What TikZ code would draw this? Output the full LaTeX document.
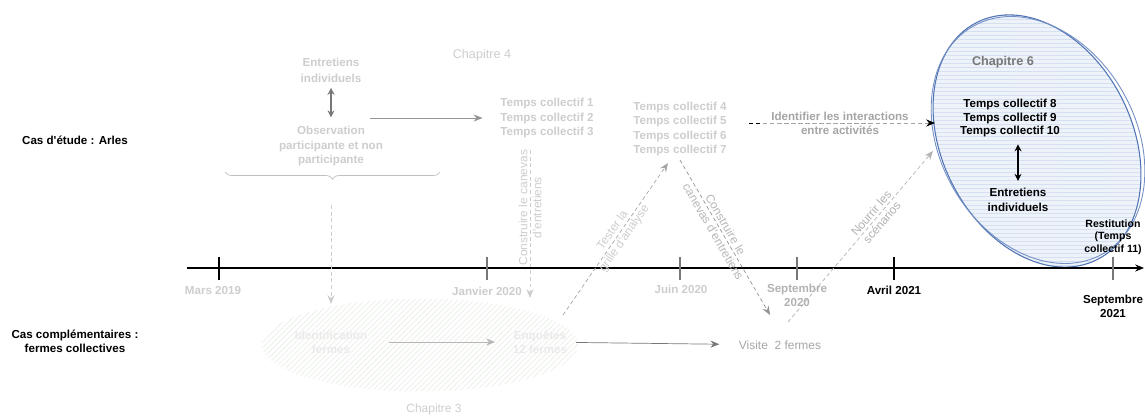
\documentclass[tikz,border=0pt]{standalone}
\usepackage{fontspec}
\setmainfont{Liberation Sans}
\usetikzlibrary{arrows.meta, positioning, patterns.meta, decorations.pathreplacing}
\definecolor{pale}{RGB}{205,205,205}
\definecolor{faded}{RGB}{234,234,234}
\definecolor{midgrey}{RGB}{165,165,165}
\definecolor{darkgrey}{RGB}{120,120,120}
\definecolor{chapblue}{RGB}{80,115,180}
\definecolor{fillblue}{RGB}{238,243,250}
\definecolor{hatchblue}{RGB}{212,223,242}
\definecolor{hatchgreen}{RGB}{236,241,234}

\begin{document}
\begin{tikzpicture}[x=0.02cm,y=-0.02cm,
    txt/.style={font=\fontsize{6.6}{8}\selectfont\bfseries,align=center,inner sep=1pt},
    thintxt/.style={font=\fontsize{6.8}{8}\selectfont,align=center,inner sep=1pt},
    tip/.style={-{Stealth[length=5pt,width=4pt]}},
    dashtip/.style={tip,dash pattern=on 2.2pt off 1.6pt}]
  \useasboundingbox (0,0) rectangle (1145,419);
  % chapitres
  \fill[pattern={Lines[angle=45,distance=2.2pt,line width=0.5pt]},pattern color=hatchgreen] (420,345) ellipse (3.16cm and 0.93cm);
  \fill[fillblue,rotate around={27:(1037,141)}] (1037,141) ellipse (1.9cm and 2.66cm);
  \fill[pattern={Lines[angle=0,distance=2.3pt,line width=0.35pt]},pattern color=hatchblue,rotate around={27:(1037,141)}] (1037,141) ellipse (1.9cm and 2.66cm);
  \draw[chapblue,line width=0.6pt,rotate around={27:(1037,141)}] (1037,141) ellipse (1.9cm and 2.66cm);
  \draw[chapblue!80,line width=0.5pt,rotate around={30:(1038,140)}] (1038,140) ellipse (1.95cm and 2.62cm);

  % frise
  \coordinate (t0) at (187,268);
  \coordinate (t1) at (1144,268);
  \draw[line width=0.8pt,tip] (t0) -- (t1);
  \foreach \x/\c in {219/black,487/darkgrey,680/darkgrey,797/darkgrey,894/black,1113/darkgrey}
    \draw[\c,line width=0.7pt] (\x,257) -- (\x,280);
  \node[txt,text=pale] (mars) at (213,291) {Mars 2019};
  \node[txt,text=pale] (janv) at (487,291) {Janvier 2020};
  \node[txt,text=pale] (juin) at (681,289) {Juin 2020};
  \node[txt,text=midgrey!85] (sept) at (797,295) {Septembre\\2020};
  \node[txt] (avril) at (894,290) {Avril 2021};
  \node[txt] (septb) at (1113,306) {Septembre\\2021};

  \node[txt] (arles) at (75,140) {Cas d\textquotesingle étude : Arles};
  \node[txt] (compl) at (75,341) {Cas complémentaires :\\fermes collectives};

  % Arles
  \node[thintxt,font=\fontsize{7.2}{8}\selectfont,text=pale] (chap4) at (482,55) {Chapitre 4};
  \node[txt,text=pale,font=\fontsize{6.6}{9}\selectfont\bfseries] (entA) at (331,70) {Entretiens\\individuels};
  \node[txt,text=pale] (obs) at (331,146) {Observation\\participante et non\\participante};
  \draw[darkgrey,line width=0.8pt,{Stealth[length=4pt,width=4pt]}-{Stealth[length=4pt,width=4pt]},shorten <=2pt,shorten >=4pt] (entA) -- (obs);
  \coordinate (brR) at (440,172);
  \coordinate (brL) at (225,172);
  \draw[midgrey!70,decorate,decoration={brace,amplitude=4pt}] (brR) -- (brL);
  \coordinate (brtip) at (331,205);
  \coordinate (obsout) at (370,118);
  \node[txt,text=pale] (tcA) at (547,118) {Temps collectif 1\\Temps collectif 2\\Temps collectif 3};
  \draw[darkgrey!80,tip,shorten >=9pt] (obsout) -- (tcA);

  \coordinate (cvA1) at (530,150);
  \coordinate (cvA2) at (530,298);
  \draw[pale,dashtip] (cvA1) -- node[thintxt,text=pale,rotate=90,pos=0.39] (cvAtxt) {Construire le canevas\\d\textquotesingle entretiens} (cvA2);

  \node[txt,text=pale] (tcB) at (680,129) {Temps collectif 4\\Temps collectif 5\\Temps collectif 6\\Temps collectif 7};
  \coordinate (tsA) at (563,315);
  \coordinate (tsB) at (668,163);
  \draw[midgrey,dashtip] (tsA) -- node[thintxt,text=pale,sloped,pos=0.53] (tstxt) {Tester la\\grille d\textquotesingle analyse} (tsB);
  \coordinate (cvB1) at (680,160);
  \coordinate (cvB2) at (770,315);
  \draw[darkgrey!80,dashtip] (cvB1) -- node[thintxt,text=midgrey!80,sloped,pos=0.44] (cvBtxt) {Construire le\\canevas d\textquotesingle entretiens} (cvB2);

  \coordinate (nrA) at (788,322);
  \coordinate (nrB) at (933,151);
  \draw[midgrey!85,dashtip] (nrA) -- node[thintxt,text=midgrey!85,sloped,pos=0.61] (nrtxt) {Nourrir les\\scénarios} (nrB);

  \node[txt,text=midgrey] (ident) at (840,123) {Identifier les interactions\\entre activités};
  \coordinate (idA) at (749,123);
  \coordinate (c6west) at (935,123);
  \draw[midgrey,dash pattern=on 2.5pt off 1.5pt,-{Stealth[black,length=5pt,width=4pt]}] (idA) -- (c6west);
  \draw[black,dash pattern=on 2.5pt off 1.5pt] (idA) -- ++(12,0);

  % Chapitre 6
  \node[txt,font=\fontsize{7.2}{8}\selectfont\bfseries,text=darkgrey] (chap6) at (1003,62) {Chapitre 6};
  \node[txt,font=\fontsize{6.6}{7.7}\selectfont\bfseries] (tcC) at (1010,118) {Temps collectif 8\\Temps collectif 9\\Temps collectif 10};
  \node[txt,font=\fontsize{6.6}{8.5}\selectfont\bfseries] (entB) at (1018,200) {Entretiens\\individuels};
  \draw[line width=0.8pt,{Stealth[length=4pt,width=4pt]}-{Stealth[length=4pt,width=4pt]},shorten <=3pt,shorten >=3pt] (entB.north |- tcC.south) -- (entB.north);
  \node[txt,font=\fontsize{6}{7.1}\selectfont\bfseries] (restit) at (1113,237) {Restitution\\(Temps\\collectif 11)};

  % fermes collectives
  \node[txt,text=faded] (identF) at (331,342) {Identification\\fermes};
  \node[txt,text=faded] (enq) at (540,342) {Enquêtes\\12 fermes};
  \node[thintxt,text=midgrey] (visite) at (780,345) {Visite\ \ 2 fermes};
  \draw[pale,dashtip,shorten >=14pt] (brtip) -- (identF);
  \draw[midgrey!80,tip,shorten <=11pt,shorten >=9pt] (identF) -- (enq);
  \draw[darkgrey,tip,shorten <=4pt,shorten >=10pt] (enq) -- (visite);
  \node[thintxt,text=pale] (chap3) at (434,409) {Chapitre 3};
\end{tikzpicture}
\end{document}
